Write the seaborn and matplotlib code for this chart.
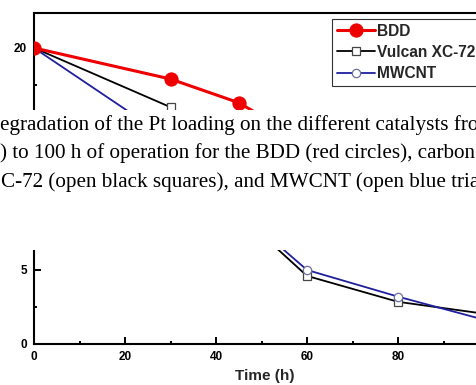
import matplotlib
matplotlib.use("Agg")
import matplotlib.pyplot as plt
from matplotlib.patches import Rectangle
from matplotlib.ticker import MultipleLocator
import seaborn as sns

# ---- data ----
time_h = [0, 30, 45, 60, 80, 100]
bdd = [20.0, 17.9, 16.3, 13.6, 10.5, 8.0]
vulcan = [20.0, 16.0, 8.8, 4.6, 2.85, 2.0]
mwcnt = [20.0, 13.8, 9.0, 5.0, 3.2, 1.55]
series_names = ["BDD", "Vulcan XC-72", "MWCNT"]
caption_lines = [
    "egradation of the Pt loading on the different catalysts from",
    ") to 100 h of operation for the BDD (red circles), carbon",
    "C-72 (open black squares), and MWCNT (open blue triangles)",
]
x_label = "Time (h)"

sns.set_style("ticks")
plt.rcParams["font.family"] = ["Liberation Sans", "DejaVu Sans"]

W, H = 477, 385
fig = plt.figure(figsize=(W / 100, H / 100), dpi=100)
fig.patch.set_facecolor("white")

# axes geometry in pixels
left_px, bottom_px, top_px = 34, 344, 13
px_per_x = 4.55
xmax = 101.5
ax = fig.add_axes([left_px / W, (H - bottom_px) / H,
                   xmax * px_per_x / W, (bottom_px - top_px) / H])

sns.lineplot(x=time_h, y=vulcan, ax=ax, color="black", linewidth=1.3,
             marker="s", markersize=5.5, markerfacecolor="white",
             markeredgecolor="#444444", markeredgewidth=0.9,
             label=series_names[1], zorder=3)
sns.lineplot(x=time_h, y=mwcnt, ax=ax, color="#1f1f9e", linewidth=1.3,
             marker="o", markersize=6, markerfacecolor="white",
             markeredgecolor="#7070a0", markeredgewidth=0.9,
             label=series_names[2], zorder=4)
sns.lineplot(x=time_h, y=bdd, ax=ax, color="#ee0000", linewidth=2.2,
             marker="o", markersize=9.5, markerfacecolor="#ee0000",
             markeredgecolor="#ee0000", label=series_names[0], zorder=5)

ax.set_xlim(0, xmax)
ax.set_ylim(0, 22.36)
ax.xaxis.set_major_locator(MultipleLocator(20))
ax.xaxis.set_minor_locator(MultipleLocator(10))
ax.yaxis.set_major_locator(MultipleLocator(5))
ax.yaxis.set_minor_locator(MultipleLocator(2.5))
ax.tick_params(which="both", direction="in", width=1.4, colors="black")
ax.tick_params(which="major", length=5, labelsize=8.5, pad=5)
ax.tick_params(which="minor", length=2.5)
for lab in ax.get_xticklabels() + ax.get_yticklabels():
    lab.set_fontweight("bold")
for s in ax.spines.values():
    s.set_linewidth(1.5)
    s.set_color("black")
ax.set_xlabel(x_label, fontsize=11, fontweight="bold", labelpad=4.5)
ax.set_ylabel("")

handles, labels = ax.get_legend_handles_labels()
order = [labels.index(n) for n in series_names]
leg = ax.legend([handles[i] for i in order], [labels[i] for i in order],
                loc="upper left", bbox_to_anchor=(332 / W, 1 - 19 / H),
                bbox_transform=fig.transFigure,
                prop={"family": "Liberation Sans", "weight": "bold", "size": 11.2},
                frameon=True, fancybox=False, framealpha=1,
                edgecolor="#333333", borderpad=0.3, handlelength=2.45,
                handletextpad=0.15, labelspacing=0.4, borderaxespad=0)
leg.get_frame().set_linewidth(0.8)

# white band with caption text overlapping the chart
band_top, band_bottom = 110, 250
fig.add_artist(Rectangle((0, (H - band_bottom) / H), 1,
                         (band_bottom - band_top) / H,
                         transform=fig.transFigure, facecolor="white",
                         edgecolor="none", zorder=10))
baselines = [130, 158, 187]
xs = [0, 0, 1]
for txt, yb, xp in zip(caption_lines, baselines, xs):
    fig.text(xp / W, (H - yb) / H, txt, family="Liberation Serif",
             fontsize=15.2, va="baseline", ha="left", color="black", zorder=11)

fig.savefig("out.png", dpi=100)
